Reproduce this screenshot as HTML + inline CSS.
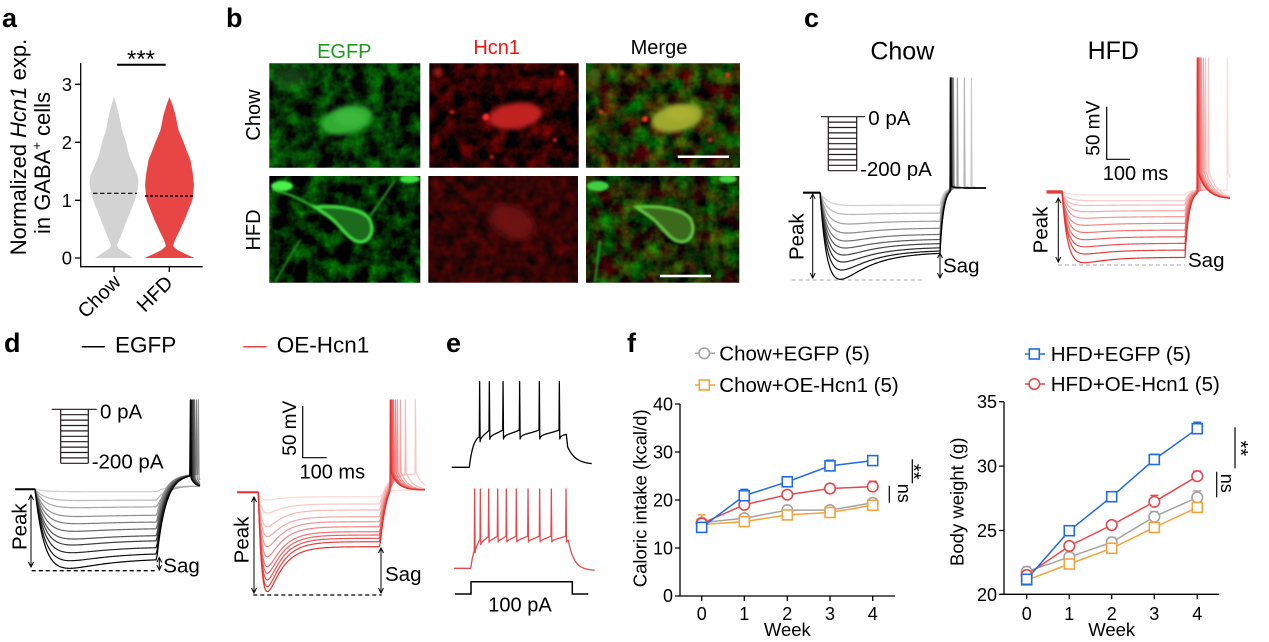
<!DOCTYPE html>
<html><head><meta charset="utf-8">
<style>
html,body{margin:0;padding:0;background:#fff;}
svg{display:block;font-family:"Liberation Sans",Arial,sans-serif;}
</style></head>
<body>
<svg id="s" width="1269" height="642" viewBox="0 0 1269 642" xmlns="http://www.w3.org/2000/svg">
<defs>
 <filter id="nG1" x="0" y="0" width="1" height="1" color-interpolation-filters="sRGB">
  <feTurbulence type="fractalNoise" baseFrequency="0.06" numOctaves="4" seed="4"/>
  <feColorMatrix type="matrix" values="0 0 0 0 0.02  1.0 0 0 0 -0.31  0 0 0 0 0.02  0 0 0 0 1"/>
 </filter>
 <filter id="nR1" x="0" y="0" width="1" height="1" color-interpolation-filters="sRGB">
  <feTurbulence type="fractalNoise" baseFrequency="0.065" numOctaves="4" seed="9"/>
  <feColorMatrix type="matrix" values="0.95 0 0 0 -0.32  0 0 0 0 0.01  0 0 0 0 0.01  0 0 0 0 1"/>
 </filter>
 <filter id="nM1" x="0" y="0" width="1" height="1" color-interpolation-filters="sRGB">
  <feTurbulence type="fractalNoise" baseFrequency="0.06" numOctaves="4" seed="4"/>
  <feColorMatrix type="matrix" values="0 0.75 0 0 -0.24  0.9 0 0 0 -0.26  0 0 0 0 0.02  0 0 0 0 1"/>
 </filter>
 <filter id="nG2" x="0" y="0" width="1" height="1" color-interpolation-filters="sRGB">
  <feTurbulence type="fractalNoise" baseFrequency="0.065" numOctaves="4" seed="13"/>
  <feColorMatrix type="matrix" values="0 0 0 0 0.01  1.05 0 0 0 -0.38  0 0 0 0 0.01  0 0 0 0 1"/>
 </filter>
 <filter id="nR2" x="0" y="0" width="1" height="1" color-interpolation-filters="sRGB">
  <feTurbulence type="fractalNoise" baseFrequency="0.09" numOctaves="2" seed="21"/>
  <feColorMatrix type="matrix" values="0.5 0 0 0 -0.05  0 0 0 0 0.02  0 0 0 0 0.02  0 0 0 0 1"/>
 </filter>
 <filter id="nM2" x="0" y="0" width="1" height="1" color-interpolation-filters="sRGB">
  <feTurbulence type="fractalNoise" baseFrequency="0.065" numOctaves="4" seed="13"/>
  <feColorMatrix type="matrix" values="0 0.55 0 0 -0.17  0.9 0 0 0 -0.27  0 0 0 0 0.02  0 0 0 0 1"/>
 </filter>
 <filter id="bl" x="-50%" y="-50%" width="200%" height="200%"><feGaussianBlur stdDeviation="2.5"/></filter>
 <filter id="bl1" x="-50%" y="-50%" width="200%" height="200%"><feGaussianBlur stdDeviation="1.1"/></filter>
 <filter id="bl4" x="-50%" y="-50%" width="200%" height="200%"><feGaussianBlur stdDeviation="4"/></filter>
 <marker id="ah" markerWidth="6" markerHeight="6" refX="5" refY="3" orient="auto-start-reverse" markerUnits="userSpaceOnUse">
  <path d="M0,0.5 L5,3 L0,5.5" fill="none" stroke="#000" stroke-width="1"/>
 </marker>
 <clipPath id="cG1"><rect x="269.3" y="63.3" width="151" height="104.4"/></clipPath>
 <clipPath id="cR1"><rect x="429.3" y="63.3" width="149.4" height="104.4"/></clipPath>
 <clipPath id="cM1"><rect x="586" y="63.3" width="154" height="104.4"/></clipPath>
 <clipPath id="cG2"><rect x="269.3" y="176" width="151" height="106.7"/></clipPath>
 <clipPath id="cR2"><rect x="428.3" y="176" width="149.7" height="106.7"/></clipPath>
 <clipPath id="cM2"><rect x="586" y="176" width="153.3" height="106.7"/></clipPath>
</defs>
<rect width="1269" height="642" fill="#fff"/>

<!-- panel letters -->
<g font-weight="bold" font-size="27" fill="#000">
 <text x="2" y="27">a</text>
 <text x="226" y="27">b</text>
 <text x="804" y="27">c</text>
 <text x="4" y="352">d</text>
 <text x="446" y="352">e</text>
 <text x="627" y="352">f</text>
</g>

<!-- ===== Panel a ===== -->
<polygon fill="#d3d3d3" points="114,97 116.5,105 119,115 122,130 126,142 129,155 133,165 137.5,175 138.5,182 137.5,190 135,200 131,210 127,220 122,233 119,240 117,245 118,248 124,252 130,256 133,258 95,258 98,256 104,252 110,248 111,245 109,240 106,233 101,220 97,210 93,200 90.5,190 89.5,182 90.5,175 95,165 99,155 102,142 106,130 109,115 111.5,105"/>
<polygon fill="#e84545" points="169.5,97 172.5,105 175.5,115 178.5,130 183.5,142 186.5,150 190.5,160 193,175 194,185 192.5,200 188.5,210 184.5,220 178.5,233 175,240 173,246 177.5,250 185.5,254 194.5,258 144.5,258 153.5,254 161.5,250 166,246 164,240 160.5,233 154.5,220 150.5,210 146.5,200 145,185 146,175 148.5,160 152.5,150 155.5,142 160.5,130 163.5,115 166.5,105"/>
<line x1="93" y1="193.3" x2="137" y2="193.3" stroke="#000" stroke-width="1.1" stroke-dasharray="4.5 2.5"/>
<line x1="145" y1="196" x2="193" y2="196" stroke="#000" stroke-width="1.4" stroke-dasharray="3 2"/>
<path d="M80.7,63 V266.7 H202.7" fill="none" stroke="#000" stroke-width="1.3"/>
<path d="M75,84.3H80.7M75,142.3H80.7M75,200.3H80.7M75,258H80.7M114,266.7V272M169.3,266.7V272" stroke="#000" stroke-width="1.3"/>
<g font-size="18.5" text-anchor="end">
 <text x="72" y="90.8">3</text><text x="72" y="148.8">2</text><text x="72" y="206.8">1</text><text x="72" y="264.5">0</text>
</g>
<line x1="117" y1="64.7" x2="165.7" y2="64.7" stroke="#000" stroke-width="2"/>
<text x="141" y="67" font-size="24" text-anchor="middle">***</text>
<text transform="translate(26,147) rotate(-90)" text-anchor="middle" font-size="22">Normalized <tspan font-style="italic">Hcn1</tspan> exp.</text>
<text transform="translate(50,163) rotate(-90)" text-anchor="middle" font-size="22">in GABA<tspan font-size="13" dy="-9">+</tspan><tspan dy="9"> cells</tspan></text>
<text transform="translate(122,283) rotate(-45)" text-anchor="end" font-size="20">Chow</text>
<text transform="translate(174,284) rotate(-45)" text-anchor="end" font-size="20">HFD</text>

<!-- ===== Panel b ===== -->
<g font-size="20" text-anchor="middle">
 <text x="344.3" y="58" fill="#1e9b1e">EGFP</text>
 <text x="496.7" y="54" fill="#ff1010">Hcn1</text>
 <text x="659" y="54" fill="#000">Merge</text>
 <text transform="translate(260,115) rotate(-90)">Chow</text>
 <text transform="translate(260,230) rotate(-90)">HFD</text>
</g>
<g clip-path="url(#cG1)">
 <rect x="269.3" y="63.3" width="151" height="104.4" filter="url(#nG1)"/>
 <ellipse cx="290" cy="78" rx="18" ry="12" fill="#2a8a2a" opacity="0.45" filter="url(#bl4)"/>
 <ellipse cx="347" cy="120" rx="26" ry="14" transform="rotate(-14 347 120)" fill="#33ad33" filter="url(#bl)"/>
 <ellipse cx="350" cy="118" rx="15" ry="8" fill="#44c044" opacity="0.6" filter="url(#bl)"/>
</g>
<g clip-path="url(#cR1)">
 <rect x="429.3" y="63.3" width="149.4" height="104.4" filter="url(#nR1)"/>
 <ellipse cx="515" cy="116" rx="27" ry="13" transform="rotate(-8 515 116)" fill="#c02020" filter="url(#bl)"/>
 <circle cx="486" cy="117" r="3.5" fill="#ff2a2a" filter="url(#bl1)"/>
 <circle cx="562" cy="73" r="2.5" fill="#e02020" filter="url(#bl1)"/>
 <circle cx="452" cy="112" r="2" fill="#d02020" filter="url(#bl1)"/>
 <circle cx="438" cy="72" r="5" fill="#a01818" filter="url(#bl)"/>
 <circle cx="555" cy="140" r="2" fill="#d02020" filter="url(#bl1)"/>
 <circle cx="492" cy="157" r="2" fill="#c02020" filter="url(#bl1)"/>
</g>
<g clip-path="url(#cM1)">
 <rect x="586" y="63.3" width="154" height="104.4" filter="url(#nM1)"/>
 <ellipse cx="677" cy="118" rx="26" ry="14" transform="rotate(-12 677 118)" fill="#9ea82e" filter="url(#bl)"/>
 <ellipse cx="680" cy="114" rx="14" ry="7" fill="#b8b838" opacity="0.5" filter="url(#bl)"/>
 <circle cx="645" cy="119" r="3" fill="#ff3020" filter="url(#bl1)"/>
 <circle cx="728" cy="75" r="2.5" fill="#e03020" filter="url(#bl1)"/>
 <circle cx="601" cy="112" r="2" fill="#e03020" filter="url(#bl1)"/>
 <circle cx="710" cy="140" r="2" fill="#d03020" filter="url(#bl1)"/>
 <circle cx="595" cy="75" r="7" fill="#6a7a20" opacity="0.6" filter="url(#bl)"/>
 <line x1="677.7" y1="156.7" x2="729" y2="156.7" stroke="#fff" stroke-width="2.5"/>
</g>
<g clip-path="url(#cG2)">
 <rect x="269.3" y="176" width="151" height="106.7" filter="url(#nG2)"/>
 <path d="M315,207 L293,196 L272,189" fill="none" stroke="#2cb02c" stroke-width="2.5" filter="url(#bl1)"/>
 <path d="M370,216 L385,195 L395,180" fill="none" stroke="#26962a" stroke-width="2" filter="url(#bl1)"/>
 <path d="M300,240 L285,265 L275,282" fill="none" stroke="#228a22" stroke-width="2" filter="url(#bl1)"/>
 <ellipse cx="282" cy="186" rx="11" ry="5" fill="#48f048" filter="url(#bl1)"/>
 <ellipse cx="410" cy="179" rx="10" ry="4" fill="#40e040" filter="url(#bl1)"/>
 <path d="M315,207 C335,205 360,208 369,218 C375,228 372,240 362,242 C352,243 345,232 335,222 C328,215 320,211 315,207 Z" fill="#1c6a1c" stroke="#40e040" stroke-width="3" filter="url(#bl1)"/>
</g>
<g clip-path="url(#cR2)">
 <rect x="428.3" y="176" width="149.7" height="106.7" filter="url(#nR2)"/>
 <ellipse cx="512" cy="222" rx="24" ry="16" transform="rotate(25 512 222)" fill="#781616" opacity="0.85" filter="url(#bl4)"/>
</g>
<g clip-path="url(#cM2)">
 <rect x="586" y="176" width="153.3" height="106.7" filter="url(#nM2)"/>
 <g transform="translate(321,0)">
  <path d="M315,207 C335,205 360,208 369,218 C375,228 372,240 362,242 C352,243 345,232 335,222 C328,215 320,211 315,207 Z" fill="#3a6a1c" stroke="#62c840" stroke-width="3" filter="url(#bl1)"/>
 </g>
 <ellipse cx="598" cy="186" rx="11" ry="5" fill="#40d040" filter="url(#bl1)"/>
 <ellipse cx="728" cy="179" rx="9" ry="4" fill="#40d040" filter="url(#bl1)"/>
 <path d="M600,240 L595,282" fill="none" stroke="#2a9a2a" stroke-width="2" filter="url(#bl1)"/>
 <line x1="660" y1="276" x2="711" y2="276" stroke="#fff" stroke-width="2.5"/>
</g>

<!-- ===== Panel c ===== -->
<g font-size="25" text-anchor="middle">
 <text x="902.3" y="59.3">Chow</text>
 <text x="1113.3" y="59">HFD</text>
</g>
<path d="M821,116.7 H865 M828.3,116.7 V170.7 M856.7,116.7 V170.7 M828.3,122.1H856.7 M828.3,127.5H856.7 M828.3,132.9H856.7 M828.3,138.3H856.7 M828.3,143.7H856.7 M828.3,149.1H856.7 M828.3,154.5H856.7 M828.3,159.9H856.7 M828.3,165.3H856.7 M828.3,170.7H856.7" stroke="#221a1a" stroke-width="1.2" fill="none"/>
<g font-size="20.5">
 <text x="868.3" y="125">0 pA</text>
 <text x="860" y="176">-200 pA</text>
</g>
<line x1="791.7" y1="280" x2="923.3" y2="280" stroke="#aaa" stroke-width="1" stroke-dasharray="4 3"/>
<line x1="1058" y1="265" x2="1185" y2="265" stroke="#aaa" stroke-width="1" stroke-dasharray="4 3"/>
<path d="M1106.7,106.7 V159.3 H1130" fill="none" stroke="#000" stroke-width="1.2"/>
<text transform="translate(1099.3,128.3) rotate(-90)" text-anchor="middle" font-size="19">50 mV</text>
<text x="1135.5" y="180" text-anchor="middle" font-size="20">100 ms</text>

<!-- ===== Panel d ===== -->
<line x1="81.7" y1="346.7" x2="105" y2="346.7" stroke="#000" stroke-width="1.5"/>
<text x="115" y="352.7" font-size="22.5">EGFP</text>
<line x1="243.3" y1="346.7" x2="266.7" y2="346.7" stroke="#e8474a" stroke-width="1.5"/>
<text x="276.7" y="352.7" font-size="22.5">OE-Hcn1</text>
<path d="M51.7,409.3 H96.7 M60.7,409.3 V463.3 M88.3,409.3 V463.3 M60.7,414.7H88.3 M60.7,420.1H88.3 M60.7,425.5H88.3 M60.7,430.9H88.3 M60.7,436.3H88.3 M60.7,441.7H88.3 M60.7,447.1H88.3 M60.7,452.5H88.3 M60.7,457.9H88.3 M60.7,463.3H88.3" stroke="#221a1a" stroke-width="1.2" fill="none"/>
<g font-size="20.5">
 <text x="100" y="418.3">0 pA</text>
 <text x="91.7" y="468.3">-200 pA</text>
</g>
<line x1="31.7" y1="570.7" x2="156.7" y2="570.7" stroke="#000" stroke-width="1.3" stroke-dasharray="4 3"/>
<line x1="253.3" y1="595" x2="381.7" y2="595" stroke="#000" stroke-width="1.3" stroke-dasharray="4 3"/>
<path d="M302.7,406 V457.7 H326.7" fill="none" stroke="#000" stroke-width="1.2"/>
<text transform="translate(296,428.3) rotate(-90)" text-anchor="middle" font-size="19">50 mV</text>
<text x="332.3" y="478.3" text-anchor="middle" font-size="20">100 ms</text>

<g stroke="#000" stroke-width="1" marker-start="url(#ah)" marker-end="url(#ah)">
 <line x1="812.7" y1="194" x2="812.7" y2="278"/>
 <line x1="940" y1="253" x2="940" y2="278"/>
 <line x1="1058.3" y1="198" x2="1058.3" y2="262"/>
 <line x1="31" y1="495" x2="31" y2="567"/>
 <line x1="159.3" y1="557.5" x2="159.3" y2="570"/>
 <line x1="254" y1="497" x2="254" y2="593"/>
 <line x1="381" y1="548" x2="381" y2="593"/>
</g>
<g font-size="20.5">
 <text transform="translate(803.3,236.7) rotate(-90)" text-anchor="middle">Peak</text>
 <text transform="translate(1047.3,230) rotate(-90)" text-anchor="middle">Peak</text>
 <text transform="translate(26.7,526.7) rotate(-90)" text-anchor="middle">Peak</text>
 <text transform="translate(248.3,540) rotate(-90)" text-anchor="middle">Peak</text>
 <text x="943" y="272.7">Sag</text>
 <text x="1188" y="267">Sag</text>
 <text x="163.3" y="572.6">Sag</text>
 <text x="385" y="581">Sag</text>
</g>

<!-- ===== Panel e ===== -->
<path d="M455,594 H471 V581.7 H572.3 V594 H588.3" fill="none" stroke="#000" stroke-width="1.5"/>
<text x="520" y="611.7" text-anchor="middle" font-size="20">100 pA</text>

<g id="traces"></g>

<!-- ===== Panel f left ===== -->
<g font-size="20.5">
 <line x1="695" y1="353.3" x2="715" y2="353.3" stroke="#a3a3a3" stroke-width="1.5"/>
 <circle cx="704.3" cy="353.3" r="5.3" fill="#fff" stroke="#a3a3a3" stroke-width="1.6"/>
 <text x="719.3" y="360.5">Chow+EGFP (5)</text>
 <line x1="695" y1="385" x2="715" y2="385" stroke="#f5a23c" stroke-width="1.5"/>
 <rect x="699.3" y="380" width="10" height="10" fill="#fff" stroke="#f5a23c" stroke-width="1.6"/>
 <text x="719.3" y="392">Chow+OE-Hcn1 (5)</text>
</g>
<path d="M680,404 V596 H895" fill="none" stroke="#000" stroke-width="1.3"/>
<path d="M675,404H680M675,452H680M675,500H680M675,548H680M675,596H680 M701.7,596V601 M744.3,596V601 M787.3,596V601 M830,596V601 M872.7,596V601" stroke="#000" stroke-width="1.3"/>
<g font-size="18" text-anchor="end">
 <text x="673" y="410.5">40</text><text x="673" y="458.5">30</text><text x="673" y="506.5">20</text><text x="673" y="554.5">10</text><text x="673" y="602">0</text>
</g>
<g font-size="18" text-anchor="middle">
 <text x="701.7" y="620">0</text><text x="744.3" y="620">1</text><text x="787.3" y="620">2</text><text x="830" y="620">3</text><text x="872.7" y="620">4</text>
</g>
<text x="787.3" y="636" font-size="18.5" text-anchor="middle">Week</text>
<text transform="translate(646.5,498.3) rotate(-90)" text-anchor="middle" font-size="18.5">Caloric intake (kcal/d)</text>
<g stroke="#a3a3a3" stroke-width="1.5" fill="none">
 <path d="M697.7,520.2H705.7M701.7,522.6V520.2 M740.3,516.3H748.3M744.3,518.2V516.3 M783.3,508.2H791.3M787.3,510.1V508.2 M826,507.7H834M830,510.1V507.7 M868.7,500H876.7M872.7,502.9V500"/>
 <polyline points="701.7,522.6 744.3,518.2 787.3,510.1 830,510.1 872.7,502.9"/>
</g>
<g stroke="#f5a23c" stroke-width="1.5" fill="none">
 <path d="M697.7,514.9H705.7M701.7,524.5V514.9 M740.3,519.2H748.3M744.3,521.6V519.2 M783.3,506.2H791.3M787.3,514.9V506.2 M826,509.6H834M830,512.5V509.6 M868.7,499.1H876.7M872.7,505.3V499.1"/>
 <polyline points="701.7,524.5 744.3,521.6 787.3,514.9 830,512.5 872.7,505.3"/>
</g>
<g stroke="#e8474a" stroke-width="1.5" fill="none">
 <path d="M697.7,522.1H705.7M701.7,523.5V522.1 M740.3,502.9H748.3M744.3,504.8V502.9 M783.3,493.3H791.3M787.3,494.7V493.3 M826,487.1H834M830,488.5V487.1 M868.7,481.3H876.7M872.7,486.6V481.3"/>
 <polyline points="701.7,523.5 744.3,504.8 787.3,494.7 830,488.5 872.7,486.6"/>
</g>
<g stroke="#1f6be0" stroke-width="1.5" fill="none">
 <path d="M697.7,525.9H705.7M701.7,527.4V525.9 M740.3,489.4H748.3M744.3,495.7V489.4 M783.3,478.9H791.3M787.3,481.8V478.9 M826,460.2H834M830,465.9V460.2 M868.7,458.2H876.7M872.7,460.6V458.2"/>
 <polyline points="701.7,527.4 744.3,495.7 787.3,481.8 830,465.9 872.7,460.6"/>
</g>
<g fill="#fff" stroke-width="1.6">
 <g stroke="#a3a3a3"><circle cx="701.7" cy="522.6" r="5.3"/><circle cx="744.3" cy="518.2" r="5.3"/><circle cx="787.3" cy="510.1" r="5.3"/><circle cx="830" cy="510.1" r="5.3"/><circle cx="872.7" cy="502.9" r="5.3"/></g>
 <g stroke="#f5a23c"><rect x="696.7" y="519.5" width="10" height="10"/><rect x="739.3" y="516.6" width="10" height="10"/><rect x="782.3" y="509.9" width="10" height="10"/><rect x="825" y="507.5" width="10" height="10"/><rect x="867.7" y="500.3" width="10" height="10"/></g>
 <g stroke="#e8474a"><circle cx="701.7" cy="523.5" r="5.3"/><circle cx="744.3" cy="504.8" r="5.3"/><circle cx="787.3" cy="494.7" r="5.3"/><circle cx="830" cy="488.5" r="5.3"/><circle cx="872.7" cy="486.6" r="5.3"/></g>
 <g stroke="#1f6be0"><rect x="696.7" y="522.4" width="10" height="10"/><rect x="739.3" y="490.7" width="10" height="10"/><rect x="782.3" y="476.8" width="10" height="10"/><rect x="825" y="460.9" width="10" height="10"/><rect x="867.7" y="455.6" width="10" height="10"/></g>
</g>
<line x1="889.3" y1="485.7" x2="889.3" y2="502.7" stroke="#000" stroke-width="1.2"/>
<text transform="translate(898,493.3) rotate(90)" text-anchor="middle" font-size="18">ns</text>
<line x1="912.3" y1="459.3" x2="912.3" y2="483.3" stroke="#000" stroke-width="1.2"/>
<text transform="translate(907,471.7) rotate(90)" text-anchor="middle" font-size="20">**</text>

<!-- ===== Panel f right ===== -->
<g font-size="20.5">
 <line x1="1025" y1="354" x2="1045" y2="354" stroke="#1f6be0" stroke-width="1.5"/>
 <rect x="1029.3" y="349" width="10" height="10" fill="#fff" stroke="#1f6be0" stroke-width="1.6"/>
 <text x="1050.7" y="361">HFD+EGFP (5)</text>
 <line x1="1025" y1="384" x2="1045" y2="384" stroke="#e8474a" stroke-width="1.5"/>
 <circle cx="1034.3" cy="384" r="5.3" fill="#fff" stroke="#e8474a" stroke-width="1.6"/>
 <text x="1050.7" y="391">HFD+OE-Hcn1 (5)</text>
</g>
<path d="M1004,401.7 V594.3 H1219.3" fill="none" stroke="#000" stroke-width="1.3"/>
<path d="M999,401.7H1004M999,466.1H1004M999,530.5H1004M999,594.3H1004 M1026.7,594.3V599.3 M1069.3,594.3V599.3 M1111.7,594.3V599.3 M1154.3,594.3V599.3 M1197.3,594.3V599.3" stroke="#000" stroke-width="1.3"/>
<g font-size="18" text-anchor="end">
 <text x="997" y="408.2">35</text><text x="997" y="472.6">30</text><text x="997" y="537">25</text><text x="997" y="600.8">20</text>
</g>
<g font-size="18" text-anchor="middle">
 <text x="1026.7" y="620">0</text><text x="1069.3" y="620">1</text><text x="1111.7" y="620">2</text><text x="1154.3" y="620">3</text><text x="1197.3" y="620">4</text>
</g>
<text x="1111.7" y="636" font-size="18.5" text-anchor="middle">Week</text>
<text transform="translate(963.5,501.7) rotate(-90)" text-anchor="middle" font-size="18.5">Body weight (g)</text>
<g stroke="#a3a3a3" stroke-width="1.5" fill="none">
 <path d="M1022.7,566.6H1030.7M1026.7,571.7V566.6 M1065.3,553.2H1073.3M1069.3,557.1V553.2 M1107.7,537.2H1115.7M1111.7,542.3V537.2 M1150.3,511.6H1158.3M1154.3,516.7V511.6 M1193.3,491H1201.3M1197.3,497.4V491"/>
 <polyline points="1026.7,571.7 1069.3,557.1 1111.7,542.3 1154.3,516.7 1197.3,497.4"/>
</g>
<g stroke="#f5a23c" stroke-width="1.5" fill="none">
 <polyline points="1026.7,580.2 1069.3,564 1111.7,548.3 1154.3,527.5 1197.3,507.4"/>
</g>
<g stroke="#e8474a" stroke-width="1.5" fill="none">
 <path d="M1022.7,571.2H1030.7M1026.7,575V571.2 M1065.3,542.2H1073.3M1069.3,546V542.2 M1107.7,521.2H1115.7M1111.7,525V521.2 M1150.3,495.4H1158.3M1154.3,501.8V495.4 M1193.3,471.1H1201.3M1197.3,476.2V471.1"/>
 <polyline points="1026.7,575 1069.3,546 1111.7,525 1154.3,501.8 1197.3,476.2"/>
</g>
<g stroke="#1f6be0" stroke-width="1.5" fill="none">
 <path d="M1022.7,575.4H1030.7M1026.7,579.3V575.4 M1150.3,454.4H1158.3M1154.3,459.5V454.4 M1193.3,422.3H1201.3M1197.3,428.7V422.3"/>
 <polyline points="1026.7,579.3 1069.3,530.7 1111.7,496.7 1154.3,459.5 1197.3,428.7"/>
</g>
<g fill="#fff" stroke-width="1.6">
 <g stroke="#a3a3a3"><circle cx="1026.7" cy="571.7" r="5.3"/><circle cx="1069.3" cy="557.1" r="5.3"/><circle cx="1111.7" cy="542.3" r="5.3"/><circle cx="1154.3" cy="516.7" r="5.3"/><circle cx="1197.3" cy="497.4" r="5.3"/></g>
 <g stroke="#f5a23c"><rect x="1021.7" y="575.2" width="10" height="10"/><rect x="1064.3" y="559" width="10" height="10"/><rect x="1106.7" y="543.3" width="10" height="10"/><rect x="1149.3" y="522.5" width="10" height="10"/><rect x="1192.3" y="502.4" width="10" height="10"/></g>
 <g stroke="#e8474a"><circle cx="1026.7" cy="575" r="5.3"/><circle cx="1069.3" cy="546" r="5.3"/><circle cx="1111.7" cy="525" r="5.3"/><circle cx="1154.3" cy="501.8" r="5.3"/><circle cx="1197.3" cy="476.2" r="5.3"/></g>
 <g stroke="#1f6be0"><rect x="1021.7" y="574.3" width="10" height="10"/><rect x="1064.3" y="525.7" width="10" height="10"/><rect x="1106.7" y="491.7" width="10" height="10"/><rect x="1149.3" y="454.5" width="10" height="10"/><rect x="1192.3" y="423.7" width="10" height="10"/></g>
</g>
<line x1="1216.7" y1="471.7" x2="1216.7" y2="497.3" stroke="#000" stroke-width="1.2"/>
<text transform="translate(1221,483.3) rotate(90)" text-anchor="middle" font-size="18">ns</text>
<line x1="1235" y1="427.3" x2="1235" y2="468.3" stroke="#000" stroke-width="1.2"/>
<text transform="translate(1234,448.3) rotate(90)" text-anchor="middle" font-size="20">**</text>
</svg>
<script>
(function(){
const NS="http://www.w3.org/2000/svg";
const G=document.getElementById('traces');
function add(d,col,w){const p=document.createElementNS(NS,'path');p.setAttribute('d',d);p.setAttribute('stroke',col);p.setAttribute('stroke-width',w||1.2);p.setAttribute('fill','none');p.setAttribute('stroke-linejoin','round');G.appendChild(p);}
function f(t,dss,S,tm,th){return (1-Math.exp(-t/tm))*(dss+S*Math.exp(-t/th));}
function fmax(dss,S,tm,th,T){let m=0;for(let t=0;t<=T;t+=0.5){const v=f(t,dss,S,tm,th);if(v>m)m=v;}return m;}
function hyper(o){
 const dss=o.ys-o.yb, tgt=o.yp-o.yb, T=o.x1-o.x0;
 let S=0;
 if(tgt>dss+0.3){let lo=0,hi=4000;for(let k=0;k<40;k++){const mid=(lo+hi)/2;if(fmax(dss,mid,o.tm,o.th,T)<tgt)lo=mid;else hi=mid;}S=(lo+hi)/2;}
 let d='M'+o.xa+','+o.yb+'L'+o.x0+','+o.yb;
 let y=o.yb;
 for(let x=o.x0;x<=o.x1+0.01;x+=1){y=o.yb+f(x-o.x0,dss,S,o.tm,o.th);d+='L'+x.toFixed(1)+','+y.toFixed(2);}
 const y1=y, x1=o.x1;
 const xsEnd=(o.spike!=null)?o.spike:o.xe;
 for(let x=x1+0.5;x<=xsEnd;x+=0.5){y=o.yr+(y1-o.yr)*Math.exp(-(x-x1)/o.tr);d+='L'+x.toFixed(1)+','+y.toFixed(2);}
 if(o.spike!=null){
  const xs=o.spike;
  d+='L'+(xs+0.4).toFixed(1)+','+o.top+'L'+(xs+1.1).toFixed(1)+','+o.p0;
  for(let x=xs+1.5;x<=o.xe;x+=0.5){y=o.post+(o.p0-o.post)*Math.exp(-(x-xs-1)/o.pt);d+='L'+x.toFixed(1)+','+y.toFixed(2);}
 }
 add(d,o.col,o.w||1.2);
}
function gray(i,n){const v=Math.round(205*(1-i/(n-1)));return 'rgb('+v+','+v+','+v+')';}
function red(i,n){const r=i/(n-1);const R=Math.round(251+(229-251)*r),Gc=Math.round(218+(48-218)*r),B=Math.round(218+(48-218)*r);return 'rgb('+R+','+Gc+','+B+')';}

(function(){
 const ys=[205,213,221,228,234,239,243,247,250,252];
 const yp=[205.5,214.5,224,233,241,248,255,262,270,279.3];
 const sp=[971,964,957,953,952,951,951,950.5,950,950];
 const n=ys.length;
 for(let i=0;i<n;i++) hyper({xa:803,x0:820,x1:940,xe:986,yb:192.7,ys:ys[i],yp:yp[i],tm:9,th:30,yr:188,tr:3.5,spike:sp[i],top:78,p0:186,post:188,pt:3,col:gray(i,n),w:1.2});
 add('M803,192.7L820,192.7','#000',2.2);
})();
(function(){
 const ys=[195,200.7,205,210.7,216.7,223.3,230,236.7,243.3,250,257.3];
 const ex=[0,0,0.5,1,1.5,2,2.5,3,3.5,4,5.4];
 const sp=[1227,1208,1205,1203,1201,1200,1199,1198,1198,1197,1197];
 const n=ys.length;
 for(let i=0;i<n;i++) hyper({xa:1046.7,x0:1062,x1:1185,xe:1230,yb:191+(i%3),ys:ys[i],yp:ys[i]+ex[i],tm:6,th:25,yr:190,tr:4,spike:sp[i],top:58,p0:172,post:199,pt:9,col:red(i,n),w:1.2});
})();
(function(){
 const ys=[491.7,500,506.7,515,521.7,528.3,535,540,546.7,552.7,558.3];
 const ex=[0,0.5,1,1.5,2,3,4,5,6,8,10];
 const sp=[null,null,null,198,196,194,193,192,191,190.5,190];
 const n=ys.length;
 for(let i=0;i<n;i++) hyper({xa:15,x0:35,x1:156.7,xe:200,yb:489.3,ys:ys[i],yp:ys[i]+ex[i],tm:11,th:40,yr:sp[i]==null?486:474,tr:9,spike:sp[i],top:400,p0:478,post:487,pt:4,col:gray(i,n),w:1.2});
 add('M15,489.3L35,489.3','#000',2);
})();
(function(){
 const ys=[496.7,504,510,516.7,521.7,526.7,531.7,535,538.3,541.7,546.7];
 const yp=[500,513,526.7,536.7,546.7,556.7,566.7,573.3,580,586.7,591.7];
 const sp=[null,415,405,400,397,395,393,392,391,390,390];
 const n=ys.length;
 for(let i=0;i<n;i++) hyper({xa:237.3,x0:258.3,x1:380,xe:425,yb:492.3,ys:ys[i],yp:yp[i],tm:5,th:14,yr:sp[i]==null?490:474,tr:7,spike:sp[i],top:400,p0:472,post:490,pt:7,col:red(i,n),w:1.2});
 add('M237.3,492.3L258.3,492.3','#e53030',2);
})();

function train(o){
 let d='M'+o.xa+','+o.yb+'L'+o.xOn+','+o.yb;
 const sp=o.spikes;
 let idx=0, prev=null, lastX=o.xOn, lastV=o.yb;
 for(let x=o.xOn;x<=o.xOff+1e-6;x+=0.5){
  const base=o.yb+(o.yPl-o.yb)*(1-Math.exp(-(x-o.xOn)/o.tOn));
  while(idx<sp.length && sp[idx]<=x+1e-6){
   const s=Math.max(sp[idx],lastX);
   d+='L'+s.toFixed(2)+','+lastV.toFixed(2);
   d+='L'+(s+0.35).toFixed(2)+','+o.top;
   d+='L'+(s+0.8).toFixed(2)+','+(base+o.ahp).toFixed(2);
   lastX=s+0.8;
   prev=sp[idx]; idx++;
  }
  const next=idx<sp.length?sp[idx]:null;
  let v=base;
  if(prev!==null){v+=o.ahp*Math.exp(-(x-prev)/3);}
  if(prev!==null&&next!==null){const r=(x-prev)/(next-prev);v-=o.dep*r*r;}
  if(x>lastX){d+='L'+x.toFixed(2)+','+v.toFixed(2);lastX=x;}
  lastV=v;
 }
 d+='L'+(o.xOff+1).toFixed(1)+','+o.yd;
 for(let x=o.xOff+1.5;x<=o.xe;x+=0.5){const y=o.yEnd+(o.yd-o.yEnd)*Math.exp(-(x-o.xOff-1)/o.tEnd);d+='L'+x.toFixed(1)+','+y.toFixed(2);}
 add(d,o.col,o.w);
}
train({xa:451.7,yb:467.3,xOn:469.3,xOff:566.7,yPl:434,tOn:4,ahp:5,dep:4,top:381.7,spikes:[479.3,489,502.7,519.3,539,559],yd:447,yEnd:464.5,tEnd:8,xe:591.7,col:'#000',w:1.3});
train({xa:454,yb:568.3,xOn:470.7,xOff:568.3,yPl:539,tOn:4,ahp:3,dep:3,top:489,spikes:[474.3,480,488.3,497.3,506,516,527.7,539.3,551,565.7],yd:545,yEnd:570.5,tEnd:6,xe:595,col:'#e8474a',w:1.3});
})();
</script>
</body></html>
